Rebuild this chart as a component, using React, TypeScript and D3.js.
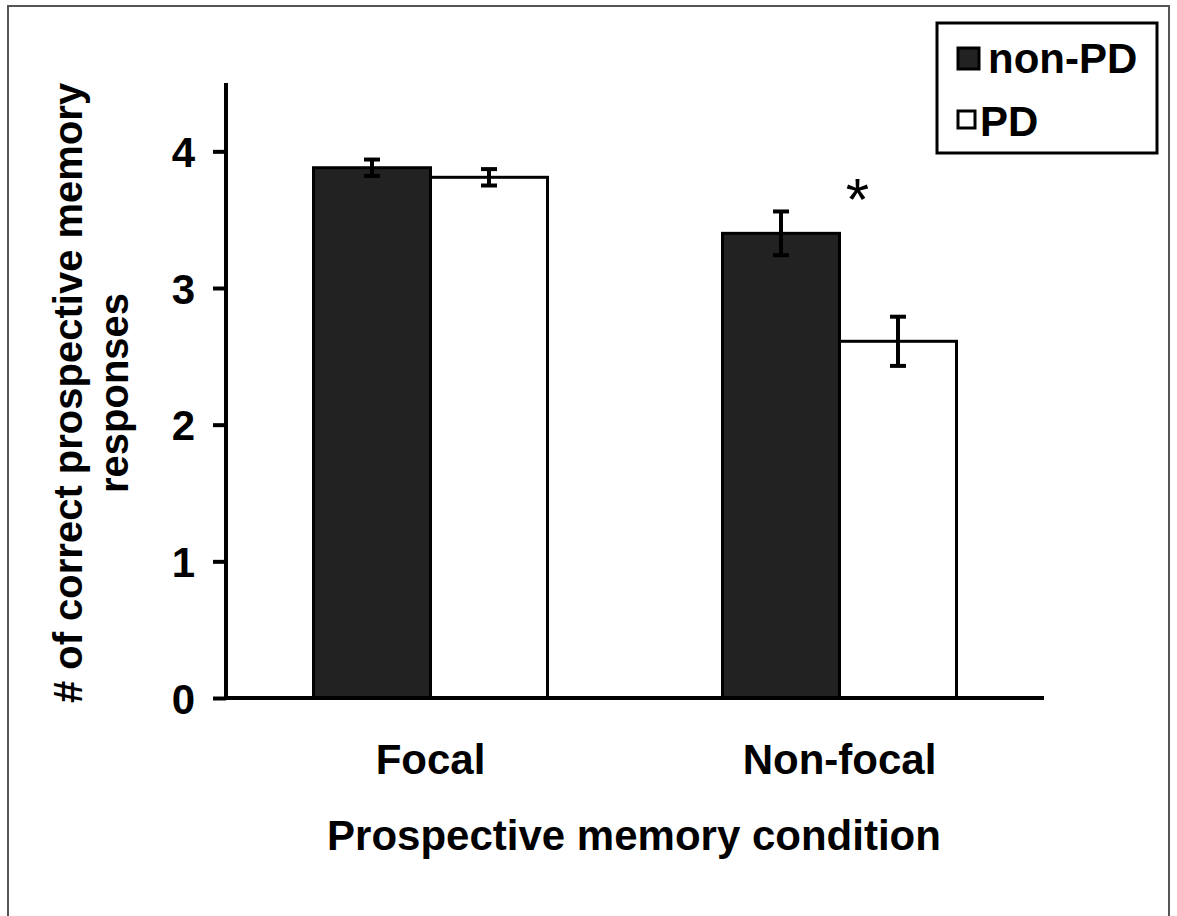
import { useEffect, useRef } from 'react';
import * as d3 from 'd3';

const conditions = ['Focal', 'Non-focal'];
const groups = ['non-PD', 'PD'];
const groupFill = ['#222222', '#ffffff'];
const means = { 'non-PD': [3.88, 3.4], PD: [3.81, 2.61] };
const errors = { 'non-PD': [0.06, 0.16], PD: [0.06, 0.18] };
const yTicks = [0, 1, 2, 3, 4];

const FONT = '"Liberation Sans", Arial, sans-serif';

export default function App() {
  const svgRef = useRef<SVGSVGElement>(null);

  useEffect(() => {
    const svg = d3.select(svgRef.current);
    svg.selectAll('*').remove();

    const width = 1177, height = 916;
    const left = 226, right = 1044, top = 83, bottom = 698;

    // outer frame
    svg.append('rect')
      .attr('x', 8).attr('y', 6).attr('width', 1161).attr('height', 920)
      .attr('fill', 'white').attr('stroke', '#555').attr('stroke-width', 2);

    const x = d3.scaleBand().domain(conditions).range([left, right]).paddingInner(0).paddingOuter(0);
    const y = d3.scaleLinear().domain([0, 4.5]).range([bottom, top]);
    const barW = 117;

    const rows = conditions.flatMap((c, ci) => groups.map((g, gi) => ({
      c, g, gi, v: (means as any)[g][ci], e: (errors as any)[g][ci],
    })));
    const bx = (d: any) => x(d.c)! + x.bandwidth() / 2 - barW + d.gi * barW;

    // bars
    svg.selectAll('.bar').data(rows).join('rect').attr('class', 'bar')
      .attr('x', bx).attr('width', barW)
      .attr('y', d => y(d.v)).attr('height', d => y(0) - y(d.v))
      .attr('fill', d => groupFill[d.gi]).attr('stroke', '#000').attr('stroke-width', 3);

    // error bars
    const eb = svg.selectAll('.err').data(rows).join('g').attr('class', 'err')
      .attr('stroke', '#000').attr('stroke-width', 4);
    eb.append('line')
      .attr('x1', d => bx(d) + barW / 2).attr('x2', d => bx(d) + barW / 2)
      .attr('y1', d => y(d.v + d.e)).attr('y2', d => y(d.v - d.e));
    eb.append('line')
      .attr('x1', d => bx(d) + barW / 2 - 8).attr('x2', d => bx(d) + barW / 2 + 8)
      .attr('y1', d => y(d.v + d.e)).attr('y2', d => y(d.v + d.e));
    eb.append('line')
      .attr('x1', d => bx(d) + barW / 2 - 8).attr('x2', d => bx(d) + barW / 2 + 8)
      .attr('y1', d => y(d.v - d.e)).attr('y2', d => y(d.v - d.e));

    // y axis
    const ya = svg.append('g').attr('transform', `translate(${left},0)`)
      .call(d3.axisLeft(y).tickValues(yTicks).tickSize(13).tickSizeOuter(0).tickPadding(18).tickFormat(d3.format('d')));
    ya.select('.domain').attr('stroke-width', 4).attr('d', `M0,${top}V${bottom}`);
    ya.selectAll('.tick line').attr('stroke-width', 4);
    ya.selectAll('.tick text').attr('font-family', FONT).attr('font-size', 42).attr('font-weight', 'bold')
      .attr('fill', '#000').attr('dy', '0.36em');

    // x axis
    const xa = svg.append('g').attr('transform', `translate(0,${bottom})`)
      .call(d3.axisBottom(x).tickSize(0).tickPadding(46));
    xa.select('.domain').attr('stroke-width', 4).attr('d', `M${left - 2},0H${right}`);
    xa.selectAll('.tick text').attr('font-family', FONT).attr('font-size', 42).attr('font-weight', 'bold')
      .attr('fill', '#000');

    // significance
    svg.append('text').attr('x', x('Non-focal')! + x.bandwidth() / 2 + 18).attr('y', 220)
      .attr('text-anchor', 'middle').attr('font-family', FONT).attr('font-size', 60)
      .text('*');

    // axis titles
    svg.append('text').attr('x', 634).attr('y', 850)
      .attr('text-anchor', 'middle').attr('font-family', FONT).attr('font-size', 42).attr('font-weight', 'bold')
      .text('Prospective memory condition');
    const yt = svg.append('text').attr('transform', 'translate(82,393) rotate(-90)')
      .attr('text-anchor', 'middle').attr('font-family', FONT).attr('font-size', 40).attr('font-weight', 'bold');
    yt.append('tspan').attr('x', 0).attr('dy', 0).text('# of correct prospective memory');
    yt.append('tspan').attr('x', 0).attr('dy', 46).text('responses');

    // legend
    const lg = svg.append('g');
    lg.append('rect').attr('x', 937).attr('y', 23).attr('width', 220).attr('height', 130)
      .attr('fill', 'white').attr('stroke', '#000').attr('stroke-width', 3);
    groups.forEach((g, i) => {
      const ly = 58 + i * 63;
      lg.append('rect').attr('x', 958).attr('y', ly - 10).attr('width', i === 0 ? 21 : 17).attr('height', i === 0 ? 21 : 17)
        .attr('fill', groupFill[i]).attr('stroke', '#000').attr('stroke-width', 3);
      lg.append('text').attr('x', i === 0 ? 988 : 980).attr('y', ly + 15)
        .attr('font-family', FONT).attr('font-size', 42).attr('font-weight', 'bold').text(g);
    });

    svg.attr('width', width).attr('height', height);
  }, []);

  return (
    <div style={{ position: 'absolute', left: 0, top: 0 }}>
      <svg ref={svgRef} width={1177} height={916} style={{ display: 'block' }} />
    </div>
  );
}
